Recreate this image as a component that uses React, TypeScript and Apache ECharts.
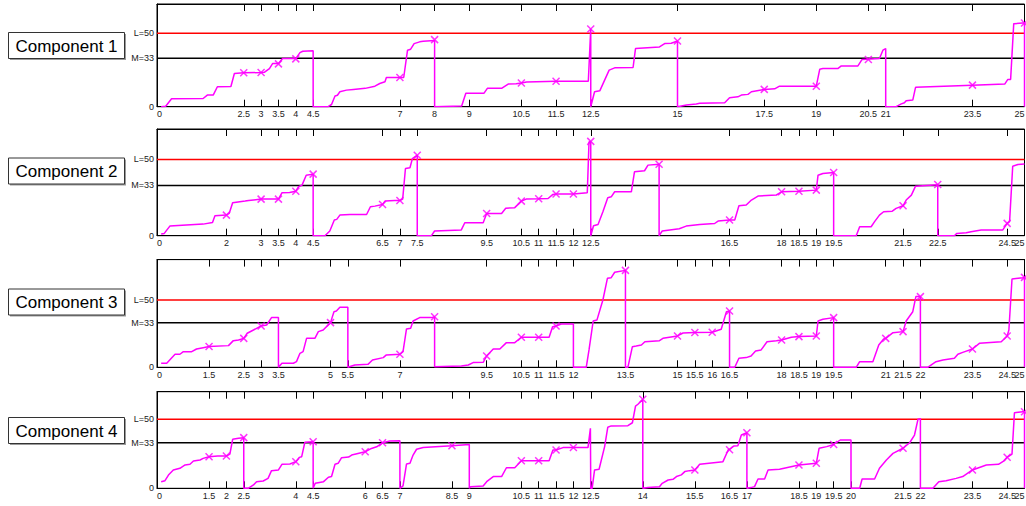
import React, { useEffect, useRef } from "react";
import * as echarts from "echarts";

// ---------- data ----------
const L_VALUE = 50;
const M_VALUE = 33;
const X_MIN = 0;
const X_MAX = 25;
const yTickValues = [0, 33, 50];
const yTickLabels = ["0", "M=33", "L=50"];
const panelNames = ["Component 1", "Component 2", "Component 3", "Component 4"];
const yMaxes = [70, 70, 80, 70];

const c1Ticks = [2.5, 3, 3.5, 4, 4.5, 7, 8, 9, 10.5, 11.5, 12.5, 15, 17.5, 19, 20.5, 21, 23.5, 25];
const c2Ticks = [2, 3, 3.5, 4, 4.5, 6.5, 7, 7.5, 9.5, 10.5, 11, 11.5, 12, 12.5, 16.5, 18, 18.5, 19, 19.5, 21.5, 22.5, 24.5, 25];
const c3Ticks = [1.5, 2.5, 3, 3.5, 5, 5.5, 7, 9.5, 10.5, 11, 11.5, 12, 13.5, 15, 15.5, 16, 16.5, 18, 18.5, 19, 19.5, 21, 21.5, 22, 23.5, 24.5, 25];
const c4Ticks = [1.5, 2, 2.5, 4, 4.5, 6, 6.5, 7, 8.5, 9, 10.5, 11, 11.5, 12, 12.5, 14, 15.5, 16.5, 17, 18.5, 19, 19.5, 20, 21.5, 22, 23.5, 24.5, 25];

const c1Line = [
  [0.12, 0], [0.25, 0.3], [0.42, 5.4], [1.33, 5.6], [1.45, 7.9], [1.62, 7.9], [1.74, 13.6], [2.13, 13.8], [2.23, 22.6],
  [2.5, 23.1], [3.0, 23.3], [3.1, 23.5], [3.24, 26], [3.33, 29.4], [3.5, 29.4], [3.62, 32.8], [4.0, 32.8], [4.12, 36.9],
  [4.2, 37.8], [4.5, 38.2], [4.5, 0], [4.93, 0], [5.03, 1.5], [5.13, 7.3], [5.2, 7.8], [5.27, 10.2], [5.46, 11.3],
  [5.66, 11.8], [6.0, 12.5], [6.28, 14.0], [6.42, 15.8], [6.57, 17], [6.61, 19.9], [7.11, 19.9], [7.22, 38.5], [7.31, 39.2],
  [7.41, 43], [7.57, 44.2], [7.67, 44.6], [8.0, 45.2], [8.0, 0], [8.78, 0.5], [8.9, 9.1], [9.42, 9.1], [9.52, 12.5],
  [9.93, 12.5], [10.12, 15.4], [10.35, 15.6], [10.5, 16.1], [10.65, 16.8], [11.5, 17.3], [12.43, 17.3], [12.5, 53.2],
  [12.5, 0], [12.61, 10.2], [12.76, 10.8], [12.9, 18.1], [13.03, 24.9], [13.19, 26.5], [13.72, 26.7], [13.79, 39.6],
  [14.48, 40.7], [14.63, 43], [14.82, 43.2], [15.0, 44.8], [15.0, 0], [15.26, 1.2], [15.54, 1.9], [15.64, 2.3],
  [16.36, 2.7], [16.5, 6.1], [16.74, 6.7], [16.84, 7.9], [17.03, 8.4], [17.13, 10.2], [17.5, 11.8], [17.8, 12.2],
  [17.94, 14.0], [19.0, 14.0], [19.1, 25.6], [19.19, 26], [19.62, 26], [19.72, 27.8], [20.2, 27.8], [20.32, 32.2],
  [20.82, 32.8], [20.92, 38.5], [21.0, 39.6], [21.0, 0], [21.3, 0], [21.45, 1.9], [21.54, 2.7], [21.59, 4.1], [21.78, 4.5],
  [21.86, 13.2], [23.5, 14.7], [24.43, 15.4], [24.52, 18.6], [24.6, 18.6], [24.69, 56.6], [24.95, 57.0], [25.0, 57.0], [25.0, 0],
];
const c1Marks = [
  [2.5, 23.1], [3, 23.3], [3.5, 29.2], [4, 32.6], [7, 19.9], [8, 45.7], [10.5, 16.1], [11.5, 17.3], [12.5, 53],
  [15, 44.8], [17.5, 11.8], [19, 14.0], [20.5, 32.2], [23.5, 14.7], [25, 57],
];

const c2Line = [
  [0.12, 1.1], [0.21, 1.5], [0.37, 6.3], [1.33, 7.6], [1.6, 8.7], [1.67, 13.1], [2.0, 13.5], [2.08, 14.6], [2.18, 21.6],
  [2.54, 22.7], [2.64, 23.1], [3.0, 24.0], [3.5, 24.0], [3.6, 28.1], [3.82, 28.4], [4.0, 29.2], [4.08, 32.1], [4.18, 33.2],
  [4.3, 39.7], [4.5, 40.4], [4.5, 0], [4.84, 0], [4.98, 3.1], [5.11, 10.3], [5.18, 10.7], [5.27, 13.5], [5.56, 13.9],
  [6.04, 13.9], [6.15, 19], [6.28, 19.4], [6.5, 20.5], [6.57, 22.7], [6.85, 23.1], [7.0, 23.1], [7.08, 24], [7.16, 44.1],
  [7.29, 44.6], [7.36, 50.6], [7.5, 52.8], [7.5, 0], [7.91, 0], [8.0, 3.1], [8.77, 3.8], [8.87, 8.5], [9.4, 8.5],
  [9.5, 14.6], [9.93, 14.6], [10.05, 18], [10.31, 18.4], [10.5, 22.7], [10.64, 24], [11.0, 24.2], [11.27, 24.4],
  [11.41, 27.1], [11.5, 27.3], [12.0, 27.3], [12.4, 28.2], [12.45, 61.5], [12.5, 61.9], [12.5, 0], [12.58, 6.5],
  [12.71, 7.4], [12.85, 15.7], [12.99, 24.9], [13.09, 25.5], [13.19, 28.8], [13.67, 28.8], [13.76, 41.9], [14.05, 42.6],
  [14.15, 46.3], [14.47, 46.9], [14.47, 0], [14.56, 3.1], [15.05, 4.6], [15.25, 6.3], [15.64, 7.4], [16.07, 8.0],
  [16.17, 9.6], [16.5, 10.3], [16.65, 10.3], [16.77, 19.6], [16.98, 20.1], [17.13, 23.4], [17.32, 26], [17.85, 26.7],
  [18.0, 28.8], [18.5, 29.2], [19.0, 29.9], [19.05, 39.7], [19.19, 40.8], [19.5, 41.5], [19.5, 0], [20.15, 0],
  [20.25, 5.9], [20.58, 5.9], [20.68, 9.2], [20.82, 13.5], [20.94, 15.7], [21.19, 16.1], [21.3, 17.9], [21.5, 19.6],
  [21.59, 23.4], [21.74, 26.6], [21.86, 32.5], [22.5, 33.4], [22.5, 0], [22.98, 0], [23.05, 1.5], [23.32, 1.9],
  [23.46, 2.6], [23.75, 3.7], [24.37, 3.7], [24.5, 8.1], [24.57, 9.2], [24.66, 45.6], [24.81, 46.7], [25.0, 47.0],
];
const c2Marks = [
  [2, 13.5], [3, 24], [3.5, 24], [4, 29.2], [4.5, 40.4], [6.5, 20.5], [7, 23.1], [7.5, 52.8], [9.5, 14.6], [10.5, 22.7],
  [11, 24.2], [11.5, 27.3], [12, 27.3], [12.5, 61.9], [14.47, 46.9], [16.5, 10.3], [18, 28.8], [18.5, 29.2], [19, 29.9],
  [19.5, 41.5], [21.5, 19.6], [22.5, 33.6], [24.5, 8.1],
];

const c3Line = [
  [0.12, 3.0], [0.28, 3.0], [0.52, 9.7], [0.66, 9.7], [0.76, 11.6], [1.0, 11.6], [1.14, 13.6], [1.33, 14.6], [1.5, 15.4],
  [2.06, 16.1], [2.2, 19.8], [2.35, 20.3], [2.5, 21.5], [2.6, 25.3], [2.78, 27.7], [3.0, 30.7], [3.16, 31.4], [3.3, 36.9],
  [3.5, 36.9], [3.5, 0], [3.6, 3.0], [3.93, 3.0], [4.02, 4.2], [4.12, 10.4], [4.21, 11.6], [4.31, 21.5], [4.55, 21.5],
  [4.65, 26.5], [4.79, 27.7], [5.0, 33.2], [5.1, 41.3], [5.17, 41.8], [5.27, 44.6], [5.5, 44.6], [5.5, 0], [5.7, 1.7],
  [6.08, 2.2], [6.21, 5.4], [6.52, 7.2], [6.61, 9.2], [7.0, 9.7], [7.09, 11.6], [7.19, 28.5], [7.31, 29], [7.38, 34.4],
  [7.57, 36.9], [7.91, 36.9], [8.0, 37.6], [8.0, 0.5], [8.77, 1.0], [8.97, 1.7], [9.11, 3.5], [9.4, 3.7], [9.5, 8.4],
  [9.69, 13.6], [9.88, 13.6], [10.07, 18.3], [10.31, 18.3], [10.5, 22.3], [11.3, 22.3], [11.4, 30.2], [11.5, 30.7],
  [11.65, 32.2], [12.0, 32.2], [12.0, 0], [12.37, 0], [12.45, 12.9], [12.57, 34.4], [12.68, 35.2], [12.85, 50],
  [12.98, 66.1], [13.09, 66.6], [13.19, 70.6], [13.5, 72.0], [13.5, 0], [13.57, 0], [13.7, 15.3], [13.81, 15.8],
  [13.96, 16.6], [14.06, 19.0], [14.48, 19.8], [14.58, 21.5], [15.0, 23.3], [15.16, 25.5], [15.5, 25.8], [16.0, 26.0],
  [16.26, 28.2], [16.41, 41.3], [16.5, 41.8], [16.5, 0], [16.65, 0], [16.77, 6.7], [16.98, 7.2], [17.12, 8.4],
  [17.25, 12.1], [17.41, 12.9], [17.58, 19.0], [17.85, 19.8], [18.0, 20.3], [18.28, 22.3], [18.5, 22.8], [19.0, 23.3],
  [19.05, 34.4], [19.19, 35.7], [19.5, 36.9], [19.5, 0], [20.15, 0], [20.25, 4.2], [20.63, 4.2], [20.8, 16.6],
  [20.94, 21.0], [21.0, 21.5], [21.21, 25.7], [21.5, 26.5], [21.59, 34.4], [21.78, 41.3], [21.87, 52.5], [22.0, 52.5],
  [22.0, 0], [22.21, 0], [22.45, 4.2], [22.65, 5.4], [22.98, 6.7], [23.08, 9.7], [23.22, 11.1], [23.5, 13.6],
  [23.7, 17.8], [24.33, 19.0], [24.5, 23.3], [24.55, 27.7], [24.64, 65.6], [24.95, 66.6], [25.0, 66.8], [25.0, 0],
];
const c3Marks = [
  [1.5, 15.4], [2.5, 21.5], [3, 30.7], [5, 33.2], [7, 9.7], [8, 37.6], [9.5, 8.4], [10.5, 22.3], [11, 22.3],
  [11.5, 30.7], [13.5, 72.0], [15, 23.3], [15.5, 25.8], [16, 26.0], [16.5, 41.8], [18, 20.3], [18.5, 22.8], [19, 23.3],
  [19.5, 36.9], [21, 21.5], [21.5, 26.5], [22, 52.5], [23.5, 13.6], [24.5, 23.3], [25, 66.8],
];

const c4Line = [
  [0.12, 4.8], [0.23, 5.5], [0.33, 9.6], [0.47, 13.3], [0.66, 14.5], [0.81, 16.9], [0.95, 17.4], [1.05, 19.8],
  [1.24, 20.5], [1.33, 21.7], [1.5, 22.9], [1.75, 23.4], [2.0, 23.4], [2.1, 24.8], [2.18, 35.5], [2.35, 36.2],
  [2.5, 36.7], [2.5, 0], [2.63, 0], [2.78, 2.4], [2.87, 4.8], [3.06, 5.3], [3.2, 7.2], [3.3, 12.8], [3.5, 13.3],
  [3.6, 17.4], [3.83, 17.6], [4.0, 19.3], [4.1, 22.4], [4.17, 22.9], [4.26, 33.3], [4.5, 33.8], [4.5, 0], [4.56, 3.6],
  [4.8, 4.8], [4.94, 8.0], [5.03, 8.5], [5.13, 17.4], [5.22, 18.1], [5.32, 22.2], [5.52, 22.6], [5.61, 24.1],
  [6.0, 26.5], [6.18, 28.9], [6.33, 30.1], [6.5, 33.0], [6.71, 34.2], [7.0, 34.5], [7.0, 0], [7.09, 1.7], [7.19, 17.6],
  [7.29, 18.1], [7.38, 24.1], [7.48, 28.3], [7.67, 29.5], [8.5, 30.9], [9.0, 31.8], [9.0, 0], [9.04, 1.2], [9.4, 1.7],
  [9.5, 4.8], [9.69, 8.5], [9.93, 8.5], [10.07, 14.9], [10.31, 14.9], [10.5, 20], [11.3, 20], [11.41, 27.8],
  [11.5, 27.8], [11.7, 29.5], [12.42, 29.5], [12.49, 43.5], [12.5, 43.5], [12.5, 0], [12.54, 0], [12.61, 13.3],
  [12.74, 13.8], [12.9, 30.2], [12.99, 44.2], [13.09, 45.2], [13.57, 45.4], [13.7, 47.5], [13.79, 59.6], [13.86, 60.9],
  [14.0, 64.5], [14.0, 0], [14.15, 0.5], [14.48, 1.2], [14.56, 3.6], [14.73, 6.0], [14.87, 6.5], [14.97, 8.5],
  [15.11, 9.7], [15.21, 12.1], [15.35, 12.8], [15.5, 13.3], [15.64, 17.4], [16.31, 19.3], [16.47, 28.3], [16.5, 28.3],
  [16.63, 30.7], [16.74, 30.9], [16.84, 38.6], [17.0, 40.3], [17.0, 0], [17.11, 0.5], [17.22, 1.2], [17.32, 6.7],
  [17.51, 6.7], [17.61, 13.3], [17.94, 13.8], [18.5, 16.9], [19.0, 18.1], [19.08, 29.0], [19.3, 30.2], [19.5, 31.8],
  [19.69, 35.0], [20.0, 35.0], [20.0, 0], [20.25, 0], [20.32, 6.7], [20.68, 6.7], [20.82, 14.5], [21.02, 20.5],
  [21.21, 25.3], [21.5, 29.0], [21.69, 33.0], [21.83, 38.6], [21.93, 50], [22.0, 50.5], [22.0, 0], [22.36, 0],
  [22.53, 4.8], [22.74, 5.5], [23.03, 7.2], [23.22, 8.5], [23.5, 13.3], [23.9, 16.9], [24.25, 17.4], [24.42, 20.0],
  [24.5, 22.5], [24.64, 24.8], [24.71, 54.8], [24.95, 55.5], [25.0, 55.5], [25.0, 0],
];
const c4Marks = [
  [1.5, 22.9], [2, 23.4], [2.5, 36.7], [4, 19.3], [4.5, 33.8], [6, 26.5], [6.5, 33.0], [8.5, 30.9], [10.5, 20],
  [11, 20], [11.5, 27.8], [12, 29.5], [14, 64.5], [15.5, 13.3], [16.5, 28.0], [17, 40.3], [18.5, 16.9], [19, 18.1],
  [19.5, 31.8], [21.5, 29.0], [23.5, 13.3], [24.5, 22.5], [25, 55.5],
];

const panelLines = [c1Line, c2Line, c3Line, c4Line];
const panelMarks = [c1Marks, c2Marks, c3Marks, c4Marks];
const panelTicks = [c1Ticks, c2Ticks, c3Ticks, c4Ticks];

// ---------- layout ----------
const FONT = "'Liberation Sans', Arial, Helvetica, sans-serif";
const gridLayout = [
  { top: 4, height: 102.7 },
  { top: 129, height: 106.7 },
  { top: 259.6, height: 107.7 },
  { top: 391.7, height: 96.6 },
];
const boxTops = [32.5, 158, 289, 417.5];

export default function App() {
  const ref = useRef<HTMLDivElement>(null);
  useEffect(() => {
    if (!ref.current) return;
    const chart = echarts.init(ref.current, undefined, { renderer: "svg" });

    const grid: any[] = [];
    const xAxis: any[] = [];
    const yAxis: any[] = [];
    const series: any[] = [];
    const graphic: any[] = [];

    const labelStyle = { fontSize: 9, fontFamily: FONT, color: "#222", margin: 3 };

    for (let i = 0; i < 4; i++) {
      grid.push({
        left: 157,
        width: 867.5,
        top: gridLayout[i].top,
        height: gridLayout[i].height,
        containLabel: false,
        outerBoundsMode: "none",
        show: true,
        borderColor: "#000",
        borderWidth: 1,
        backgroundColor: "#fff",
      });
      const tickVals = panelTicks[i].filter((v) => v > X_MIN && v < X_MAX);
      const innerLabels = [X_MIN, ...panelTicks[i].filter((v) => v < X_MAX)];
      const endLabels = panelTicks[i].filter((v) => v >= X_MAX);
      // bottom axis: ticks + labels (except the last one)
      xAxis.push({
        gridIndex: i,
        type: "value",
        position: "bottom",
        min: X_MIN,
        max: X_MAX,
        axisLine: { show: true, onZero: false, lineStyle: { color: "#000", width: 1 } },
        axisTick: { show: true, inside: true, length: 7, customValues: tickVals, lineStyle: { color: "#000", width: 1 } },
        axisLabel: {
          show: true,
          customValues: innerLabels,
          formatter: (v: number) => String(v),
          ...labelStyle,
          alignMinLabel: "left",
          showMinLabel: true,
          hideOverlap: false,
        },
        splitLine: { show: false },
      });
      // top axis: mirrored ticks
      xAxis.push({
        gridIndex: i,
        type: "value",
        position: "top",
        min: X_MIN,
        max: X_MAX,
        axisLine: { show: true, onZero: false, lineStyle: { color: "#000", width: 1 } },
        axisTick: { show: true, inside: true, length: 7, customValues: tickVals, lineStyle: { color: "#000", width: 1 } },
        axisLabel: { show: false },
        splitLine: { show: false },
      });
      // helper bottom axis holding only the right-end label, right aligned
      xAxis.push({
        gridIndex: i,
        type: "value",
        position: "bottom",
        min: X_MIN,
        max: X_MAX,
        axisLine: { show: false },
        axisTick: { show: false },
        axisLabel: {
          show: endLabels.length > 0,
          customValues: endLabels,
          formatter: (v: number) => String(v),
          ...labelStyle,
          align: "right",
          alignMinLabel: "right",
          alignMaxLabel: "right",
          showMaxLabel: true,
          showMinLabel: true,
        },
        splitLine: { show: false },
      });
      yAxis.push({
        gridIndex: i,
        type: "value",
        min: 0,
        max: yMaxes[i],
        axisLine: { show: true, lineStyle: { color: "#000", width: 1 } },
        axisTick: { show: false },
        axisLabel: {
          show: true,
          customValues: yTickValues,
          formatter: (v: number) => yTickLabels[yTickValues.indexOf(v)] ?? String(v),
          ...labelStyle,
        },
        splitLine: { show: false },
      });

      const xi = i * 3;
      series.push({
        type: "line",
        xAxisIndex: xi,
        yAxisIndex: i,
        data: [[X_MIN, L_VALUE], [X_MAX, L_VALUE]],
        showSymbol: false,
        symbol: "none",
        lineStyle: { color: "#ff0000", width: 1.5 },
        silent: true,
        z: 1,
      });
      series.push({
        type: "line",
        xAxisIndex: xi,
        yAxisIndex: i,
        data: [[X_MIN, M_VALUE], [X_MAX, M_VALUE]],
        showSymbol: false,
        symbol: "none",
        lineStyle: { color: "#000000", width: 1.5 },
        silent: true,
        z: 1,
      });
      series.push({
        type: "line",
        xAxisIndex: xi,
        yAxisIndex: i,
        data: panelLines[i],
        showSymbol: false,
        symbol: "none",
        lineStyle: { color: "#ff00ff", width: 1.5 },
        silent: true,
        z: 2,
      });
      series.push({
        type: "scatter",
        xAxisIndex: xi,
        yAxisIndex: i,
        data: panelMarks[i],
        symbol: "path://M0,0L10,10M10,0L0,10",
        symbolSize: 7,
        itemStyle: { color: "transparent", borderColor: "#ff00ff", borderWidth: 1.5 },
        silent: true,
        z: 3,
      });

      graphic.push({
        type: "group",
        x: 8.5,
        y: boxTops[i],
        children: [
          { type: "rect", shape: { x: 1.5, y: 1.5, width: 116, height: 26 }, style: { fill: "#9a9a9a" } },
          { type: "rect", shape: { x: 0, y: 0, width: 116, height: 26 }, style: { fill: "#fff", stroke: "#333", lineWidth: 1 } },
          {
            type: "text",
            x: 58,
            y: 13.5,
            style: {
              text: panelNames[i],
              fontSize: 17,
              fontFamily: FONT,
              fill: "#000",
              align: "center",
              verticalAlign: "middle",
            },
          },
        ],
      });
    }

    chart.setOption({
      animation: false,
      backgroundColor: "#fff",
      textStyle: { fontFamily: FONT },
      grid,
      xAxis,
      yAxis,
      series,
      graphic,
    });
    return () => chart.dispose();
  }, []);

  return (
    <div
      ref={ref}
      style={{ position: "absolute", left: 0, top: 0, width: 1026, height: 506 }}
    />
  );
}
